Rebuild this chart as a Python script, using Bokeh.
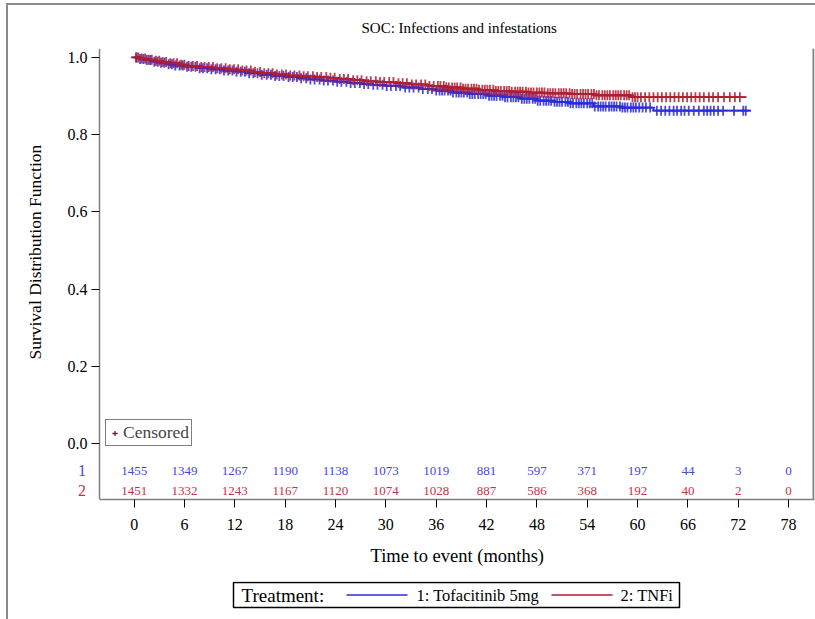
import numpy as np
from bokeh.plotting import figure
from bokeh.layouts import column
from bokeh.models import (Range1d, FixedTicker, PrintfTickFormatter, Span, LinearAxis,
                          Legend, LegendItem, Title)
from bokeh.embed import file_html
from bokeh.resources import INLINE
from bokeh.core.properties import value

title_text = "SOC: Infections and infestations"
x_label = "Time to event (months)"
y_label = "Survival Distribution Function"
x_ticks = [0, 6, 12, 18, 24, 30, 36, 42, 48, 54, 60, 66, 72, 78]
y_ticks = [0.0, 0.2, 0.4, 0.6, 0.8, 1.0]

# Group 1: Tofacitinib 5mg (event times, survival after step)
t1 = [0, 0.7, 1.4, 2.2, 3.0, 3.9, 4.8, 6, 7.5, 9, 10.5, 12, 13.5, 15, 16.5, 18, 19.5, 21,
      22.5, 24, 25.5, 27, 28.5, 30, 32, 34, 36, 38, 40, 42, 44, 46, 48, 50, 52, 54.8, 58, 61.9]
s1 = [1.0, 0.996, 0.993, 0.989, 0.986, 0.982, 0.979, 0.976, 0.972, 0.969, 0.966, 0.963,
      0.959, 0.955, 0.952, 0.949, 0.946, 0.943, 0.940, 0.937, 0.934, 0.931, 0.929, 0.926,
      0.922, 0.918, 0.914, 0.909, 0.905, 0.901, 0.897, 0.893, 0.888, 0.885, 0.881, 0.873,
      0.870, 0.862]
t1_end = 73.5
cens1 = [0.3, 0.7, 1.1, 1.5, 1.9, 2.4, 2.8, 3.2, 3.6, 4.1, 4.5, 4.9, 5.4, 5.8, 6.3, 6.8, 7.3,
         7.8, 8.2, 8.7, 9.2, 9.7, 10.2, 10.7, 11.2, 11.7, 12.2, 12.7, 13.2, 13.7, 14.2, 14.7,
         15.2, 15.8, 16.3, 16.8, 17.3, 17.8, 18.4, 18.9, 19.4, 19.9, 20.5, 21.0, 21.5, 22.1,
         22.6, 23.1, 23.7, 24.2, 24.7, 25.3, 25.8, 26.3, 26.9, 27.4, 27.9, 28.5, 29.0, 29.6,
         30.1, 30.6, 31.2, 31.7, 32.3, 32.8, 33.3, 33.9, 34.4, 35.0, 35.5, 36.0, 36.4, 36.7,
         37.0, 37.4, 37.7, 38.0, 38.4, 38.7, 39.0, 39.3, 39.7, 40.0, 40.3, 40.6, 41.0, 41.3,
         41.6, 41.9, 42.3, 42.6, 42.9, 43.2, 43.6, 43.9, 44.2, 44.5, 44.9, 45.2, 45.5, 45.8,
         46.2, 46.5, 46.8, 47.1, 47.5, 47.8, 48.1, 48.4, 48.8, 49.1, 49.4, 49.7, 50.1, 50.4,
         50.7, 51.0, 51.4, 51.7, 52.0, 52.3, 52.7, 53.0, 53.3, 53.6, 54.0, 54.3, 54.6, 54.9,
         55.3, 55.6, 55.9, 56.2, 56.6, 56.9, 57.2, 57.5, 57.9, 58.2, 58.5, 58.8, 59.2, 59.5,
         59.8, 60.2, 60.6, 61.0, 61.5, 62.3, 62.8, 63.3, 63.8, 64.3, 64.7, 65.2, 65.6, 66.1,
         66.7, 67.3, 67.9, 68.3, 68.7, 69.1, 69.6, 70.2, 71.5, 72.6, 72.9]

# Group 2: TNFi
t2 = [0, 0.8, 1.6, 2.5, 3.4, 4.3, 5.3, 6.5, 8, 9.5, 11, 12.5, 14, 15.5, 17, 18.5, 20, 21.5,
      23, 24.5, 26, 27.5, 29, 31, 33, 35, 37, 39, 41, 43, 45, 47, 49, 52, 55, 59.2]
s2 = [1.0, 0.997, 0.994, 0.991, 0.988, 0.985, 0.981, 0.978, 0.975, 0.972, 0.969, 0.966,
      0.962, 0.959, 0.956, 0.953, 0.951, 0.949, 0.947, 0.944, 0.941, 0.938, 0.936, 0.933,
      0.930, 0.926, 0.922, 0.919, 0.916, 0.913, 0.911, 0.909, 0.907, 0.905, 0.902, 0.897]
t2_end = 73.0
cens2 = [0.2, 0.5, 0.9, 1.3, 1.7, 2.1, 2.6, 3.0, 3.4, 3.8, 4.3, 4.7, 5.1, 5.6, 6.0, 6.5, 7.0,
         7.5, 8.0, 8.4, 8.9, 9.4, 9.9, 10.4, 10.9, 11.4, 11.9, 12.4, 12.9, 13.4, 13.9, 14.4,
         15.0, 15.5, 16.0, 16.5, 17.0, 17.6, 18.1, 18.6, 19.1, 19.7, 20.2, 20.7, 21.3, 21.8,
         22.3, 22.9, 23.4, 23.9, 24.5, 25.0, 25.5, 26.1, 26.6, 27.1, 27.7, 28.2, 28.8, 29.3,
         29.8, 30.4, 30.9, 31.5, 32.0, 32.5, 33.1, 33.6, 34.2, 34.7, 35.2, 35.7, 36.2, 36.5,
         36.9, 37.2, 37.5, 37.9, 38.2, 38.5, 38.9, 39.2, 39.5, 39.8, 40.2, 40.5, 40.8, 41.1,
         41.5, 41.8, 42.1, 42.4, 42.8, 43.1, 43.4, 43.7, 44.1, 44.4, 44.7, 45.0, 45.4, 45.7,
         46.0, 46.3, 46.7, 47.0, 47.3, 47.6, 48.0, 48.3, 48.6, 48.9, 49.3, 49.6, 49.9, 50.2,
         50.6, 50.9, 51.2, 51.5, 51.9, 52.2, 52.5, 52.8, 53.2, 53.5, 53.8, 54.1, 54.5, 54.8,
         55.1, 55.4, 55.8, 56.1, 56.4, 56.7, 57.1, 57.4, 57.7, 58.0, 58.4, 58.7, 59.0, 59.4,
         59.7, 60.0, 60.4, 60.9, 61.4, 61.9, 62.4, 62.9, 63.4, 63.9, 64.4, 64.9, 65.4, 65.9,
         66.4, 66.9, 67.4, 67.9, 68.5, 69.0, 69.6, 70.3, 71.0, 71.6, 72.2]

risk1 = [1455, 1349, 1267, 1190, 1138, 1073, 1019, 881, 597, 371, 197, 44, 3, 0]
risk2 = [1451, 1332, 1243, 1167, 1120, 1074, 1028, 887, 586, 368, 192, 40, 2, 0]
risk_row_labels = ["1", "2"]

group_labels = ["1: Tofacitinib 5mg", "2: TNFi"]
legend_title = "Treatment:"

BLUE = "#2b2bd9"
RED = "#b01c30"
BLUE_T = "#4646e0"
RED_T = "#c23444"
FONT = "Liberation Serif"


def surv_at(ts, ss, x):
    idx = np.searchsorted(np.asarray(ts), np.asarray(x), side="right") - 1
    return np.asarray(ss)[idx]


# x range: frame spans page x 8..814, with 0 months at x=133.7 and 8.389 px/month
X_LEFT, X0, X1 = -14.98, -4.14, 81.09
Y0, Y1 = -0.1445, 1.023

p = figure(width=807, height=576, output_backend="svg", toolbar_location=None,
           x_range=Range1d(X_LEFT, X1), y_range=Range1d(Y0, Y1),
           y_axis_location=None,
           min_border_left=0, min_border_right=1, min_border_top=42, min_border_bottom=82)
p.grid.visible = False
p.outline_line_color = None
p.background_fill_color = "white"
p.border_fill_color = "white"

p.add_layout(Title(text=title_text, align="left", offset=353, text_font=FONT,
                   text_font_size="15px", text_font_style="normal", text_color="black",
                   standoff=25), "above")

# x axis (below panel, line limited to the plotting area)
p.xaxis.ticker = FixedTicker(ticks=x_ticks)
p.xaxis.bounds = (X0, X1)
# y axis drawn at the left edge of the plotting area
yax = LinearAxis(fixed_location=X0, bounds=(Y0, Y1), ticker=FixedTicker(ticks=y_ticks),
                 formatter=PrintfTickFormatter(format="%.1f"))
p.add_layout(yax, "left")
for ax in (p.xaxis[0], yax):
    ax.axis_line_color = "#808080"
    ax.axis_line_width = 1.5
    ax.major_tick_line_color = "black"
    ax.major_tick_line_width = 1
    ax.major_tick_out = 8
    ax.major_tick_in = 0
    ax.minor_tick_line_color = None
    ax.major_label_text_font = FONT
    ax.major_label_text_font_size = "16px"
    ax.major_label_text_color = "black"
p.xaxis.major_label_standoff = 11
yax.major_label_standoff = 4

p.add_layout(Title(text=x_label, align="left", offset=362, vertical_align="middle",
                   standoff=24, text_font=FONT, text_font_size="18.5px",
                   text_font_style="normal", text_color="black"), "below")

p.text(x=[-11.77], y=[0.4959], text=[y_label], angle=np.pi / 2, text_align="center",
       text_baseline="middle", text_font=value(FONT), text_font_size="17.5px",
       text_color="black")

p.add_layout(Span(location=80.97, dimension="height", line_color="#808080", line_width=2))

# curves
x1 = list(t1) + [t1_end]
y1 = list(s1) + [s1[-1]]
x2 = list(t2) + [t2_end]
y2 = list(s2) + [s2[-1]]
r1 = p.step(x1, y1, mode="after", line_color=BLUE, line_width=1.8)
p.scatter(cens1, surv_at(t1, s1, cens1), marker="cross", size=10, line_color=BLUE,
          line_width=1.8, line_alpha=0.85)
r2 = p.step(x2, y2, mode="after", line_color=RED, line_width=1.8)
p.scatter(cens2, surv_at(t2, s2, cens2), marker="cross", size=10, line_color=RED,
          line_width=1.8, line_alpha=0.85)

# at-risk table
row1_y, row2_y = -0.0697, -0.1214
p.text(x=x_ticks, y=[row1_y] * len(x_ticks), text=[str(v) for v in risk1],
       text_align="center", text_baseline="middle", text_font=value(FONT),
       text_font_size="13px", text_color=BLUE_T)
p.text(x=x_ticks, y=[row2_y] * len(x_ticks), text=[str(v) for v in risk2],
       text_align="center", text_baseline="middle", text_font=value(FONT),
       text_font_size="13px", text_color=RED_T)
p.text(x=[-5.75, -5.75], y=[row1_y, row2_y], text=risk_row_labels, text_align="right",
       text_baseline="middle", text_font=value(FONT), text_font_size="16px",
       text_color=[BLUE_T, RED_T])

# censored legend (renderer point lies outside the visible range)
rc = p.scatter([-100], [-100], marker="cross", size=13, line_color="#6a1f2c", line_width=1.3)
leg_c = Legend(items=[LegendItem(label="Censored", renderers=[rc])], location=(97, 53),
               label_text_font=FONT, label_text_font_size="17.5px", glyph_width=13,
               glyph_height=18, label_height=18, label_standoff=2, padding=2, margin=0,
               border_line_color="black", border_line_width=1.2, background_fill_alpha=1)
p.add_layout(leg_c, "center")

# treatment legend strip (coordinates in page pixels)
q = figure(width=807, height=38, output_backend="svg", toolbar_location=None,
           x_range=Range1d(8, 814), y_range=Range1d(619, 581),
           min_border_left=0, min_border_right=1, min_border_top=0, min_border_bottom=0)
q.axis.visible = False
q.grid.visible = False
q.outline_line_color = None
q.background_fill_color = "white"
q.border_fill_color = "white"
q.quad(left=[233], right=[679], top=[582], bottom=[607], fill_color="white",
       line_color="black", line_width=1.5)
q.text(x=[241], y=[595], text=[legend_title], text_align="left", text_baseline="middle",
       text_font=value(FONT), text_font_size="19px", text_color="black")
q.segment(x0=[346, 551], y0=[594.5, 594.5], x1=[407, 612], y1=[594.5, 594.5],
          line_color=[BLUE, RED], line_width=1.5)
q.text(x=[416, 620], y=[595, 595], text=group_labels, text_align="left",
       text_baseline="middle", text_font=value(FONT), text_font_size="16.5px",
       text_color="black")

lay = column(p, q, spacing=0)
lay.styles = {"border-left": "2px solid #8a8a8a", "border-top": "2px solid #8a8a8a",
              "margin-left": "6px", "margin-top": "3px"}

open("out.html", "w").write(file_html(lay, INLINE))
